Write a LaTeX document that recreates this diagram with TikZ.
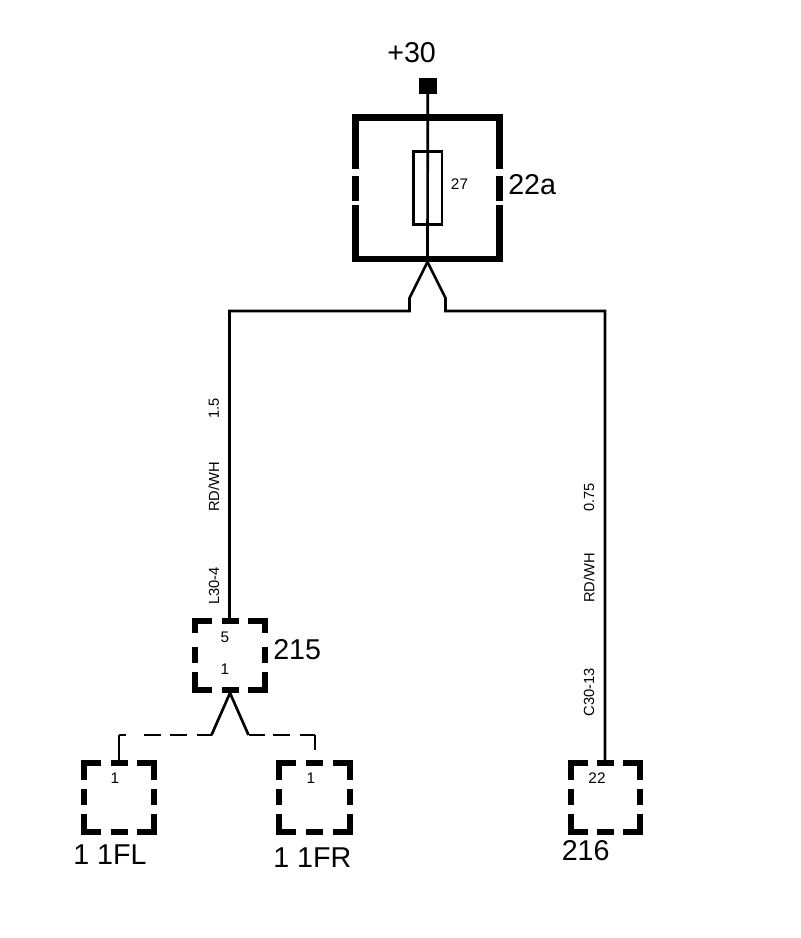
\documentclass[tikz,border=0pt]{standalone}
\usepackage{fontspec}
\setmainfont{Liberation Sans}
\usetikzlibrary{calc}
\newcommand{\conbox}[6]{% name, x0, y0, x1, y1, top corner length
  \node[boxanchor, minimum width={(#4-#2)*0.75pt}, minimum height={(#5-#3)*0.75pt}] (#1) at ({(#2+#4)/2},{(#3+#5)/2}) {};
  \pgfmathsetmacro{\boxmid}{(#4-#2)/2}
  \draw[heavy] (#2+20,#3+3) -- (#2+3,#3+3) -- (#2+3,#3+#6);
  \draw[heavy] (#2+\boxmid-8.5,#3+3) -- (#2+\boxmid+8.5,#3+3);
  \draw[heavy] (#4-20,#3+3) -- (#4-3,#3+3) -- (#4-3,#3+#6);
  \draw[heavy] (#2+3,#3+29) -- (#2+3,#3+45);
  \draw[heavy] (#4-3,#3+29) -- (#4-3,#3+45);
  \draw[heavy] (#2+3,#5-21) -- (#2+3,#5-3) -- (#2+20,#5-3);
  \draw[heavy] (#2+\boxmid-8.5,#5-3) -- (#2+\boxmid+8.5,#5-3);
  \draw[heavy] (#4-3,#5-21) -- (#4-3,#5-3) -- (#4-20,#5-3);
}
\tikzset{
  x=0.75pt,y=-0.75pt,
  heavy/.style={line width=4.6pt,line join=miter,line cap=butt,black},
  wire/.style={line width=2pt,line join=miter,black},
  dashleft/.style={wire,dash pattern=on 11pt off 7.5pt on 12.5pt off 7pt on 12.5pt off 14pt on 6pt off 1pt},
  dashright/.style={wire,dash pattern=on 12.5pt off 6pt on 12.5pt off 7.5pt on 12pt off 1pt},
  boxanchor/.style={inner sep=0pt,outer sep=0pt,rectangle},
  bigtext/.style={font=\fontsize{21.5}{24}\selectfont,inner sep=0pt,anchor=west},
  pintext/.style={font=\fontsize{11.5}{13}\selectfont,inner sep=0pt},
  wiretext/.style={font=\fontsize{11}{13}\selectfont,inner sep=0pt,rotate=90,anchor=east},
}
\begin{document}
\begin{tikzpicture}
\useasboundingbox (0,0) rectangle (800,938);
\fill[white] (0,0) rectangle (800,938);
% terminal
\node[fill=black,inner sep=0pt,outer sep=0pt,minimum width=13.2pt,minimum height=12pt] (term) at (427.8,86) {};
\node[bigtext] (t30) at (387,53) {+30};
% fuse box
\node[boxanchor,minimum width=113pt,minimum height=111pt] (fbox) at (427.5,188) {};
\draw[heavy] (355.5,169) -- (355.5,117.5) -- (499.5,117.5) -- (499.5,169);
\draw[heavy] (355.5,176) -- (355.5,200.5);
\draw[heavy] (499.5,176) -- (499.5,200.5);
\draw[heavy] (355.5,205) -- (355.5,259) -- (499.5,259) -- (499.5,205);
\node[draw=black,line width=2pt,fill=white,inner sep=0pt,outer sep=0pt,minimum width=21.5pt,minimum height=54.5pt] (fuse) at (427.8,188) {};
\node[pintext] (n27) at (459.5,184) {27};
\node[bigtext] (n22a) at (508,185) {22a};
\draw[wire] (term.south) -- (fbox.south);
% fork coordinates
\coordinate (fl) at (409.5,298);
\coordinate (fl2) at (409.5,311);
\coordinate (fla) at (229.5,311);
\coordinate (fr) at (445.5,298);
\coordinate (fr2) at (445.5,311);
\coordinate (fra) at (605,311);
% connectors
\conbox{c215}{192}{618}{268}{693}{15}
\conbox{cfl}{81}{760}{157}{835}{20}
\conbox{cfr}{276}{760}{353}{835}{20}
\conbox{c216}{568}{760}{643}{835}{20}
% main wires
\draw[wire] (fbox.south) -- (fl) -- (fl2) -- (fla) -- (fla |- c215.north);
\draw[wire] (fbox.south) -- (fr) -- (fr2) -- (fra) -- (fra |- c216.north);
% dashed branches
\coordinate (dl) at (211.5,735);
\coordinate (dlc) at (119,735);
\coordinate (dr) at (248.5,735);
\coordinate (drc) at (315,735);
\coordinate (dre) at (315,750);
\draw[wire] (dl) -- (c215.south) -- (dr);
\draw[dashleft] (dl) -- (dlc);
\draw[wire] (dlc) -- (dlc |- cfl.north);
\draw[dashright] (dr) -- (drc);
\draw[wire] (drc) -- (dre);
% pin labels
\node[pintext] (p5) at (225,637) {5};
\node[pintext] (p1) at (225,669) {1};
\node[pintext] (p1l) at (115,778) {1};
\node[pintext] (p1r) at (311,778) {1};
\node[pintext] (p22) at (597,778) {22};
% wire labels
\node[wiretext] (w1) at (214,398) {1.5};
\node[wiretext] (w2) at (214,462) {RD/WH};
\node[wiretext] (w3) at (214,567) {L30-4};
\node[wiretext] (w4) at (589,483) {0.75};
\node[wiretext] (w5) at (589,553) {RD/WH};
\node[wiretext] (w6) at (589,668) {C30-13};
% big labels
\node[bigtext] (n215) at (273,650) {215};
\node[bigtext] (n1fl) at (73,855) {1 1FL};
\node[bigtext] (n1fr) at (273,858) {1 1FR};
\node[bigtext] (n216) at (561.5,851) {216};
\end{tikzpicture}
\end{document}
